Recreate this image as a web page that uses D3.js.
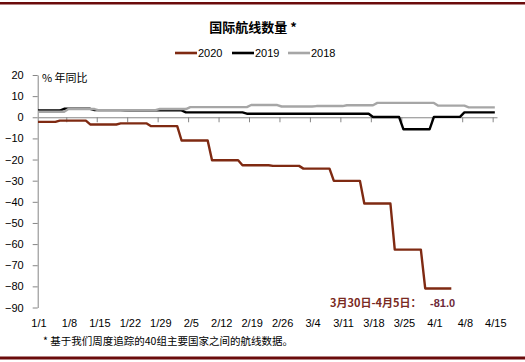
<!DOCTYPE html>
<html>
<head>
<meta charset="utf-8">
<script src="https://cdn.jsdelivr.net/npm/d3@7"></script>
<style>
  body { margin: 0; background: #fff; }
  svg { display: block; }
</style>
</head>
<body>
<script>
// weekly values (% yoy), each week starts on the given month/day of the 2020 axis
const weeks2020 = ["1/1", "1/6", "1/13", "1/20", "1/27", "2/3", "2/10", "2/17", "2/24", "3/2", "3/9", "3/16", "3/23", "3/30"];
const values2020 = [-2.2, -1.6, -3.4, -2.9, -4.2, -11.0, -20.3, -22.7, -23.0, -24.3, -30.1, -40.8, -62.6, -81.0];

const weeks2019 = ["1/1", "1/7", "1/14", "1/21", "1/28", "2/4", "2/11", "2/18", "2/25", "3/4", "3/11", "3/18", "3/25", "4/1", "4/8"];
const values2019 = [3.2, 4.0, 3.4, 3.3, 3.3, 2.3, 2.3, 1.7, 1.7, 1.7, 1.7, 0.1, -5.7, 0.2, 2.3];

const weeks2018 = ["1/1", "1/8", "1/15", "1/22", "1/29", "2/5", "2/12", "2/19", "2/26", "3/5", "3/12", "3/19", "3/26", "4/2", "4/9"];
const values2018 = [2.6, 3.9, 3.3, 3.4, 3.9, 4.8, 4.8, 5.8, 5.1, 5.3, 5.7, 6.8, 6.8, 5.5, 4.7];

const seriesNames = ["2020", "2019", "2018"];
const seriesColors = ["#7f2a12", "#000000", "#a6a6a6"];
const seriesEnd = ["4/5", "4/15", "4/15"];

const xLabels = ["1/1", "1/8", "1/15", "1/22", "1/29", "2/5", "2/12", "2/19", "2/26", "3/4", "3/11", "3/18", "3/25", "4/1", "4/8", "4/15"];
const yTicks = [20, 10, 0, -10, -20, -30, -40, -50, -60, -70, -80, -90];

const W = 525, H = 362;
const numFont = "'Liberation Sans', Arial, sans-serif";
const cjkFont = "'Noto Sans CJK SC', sans-serif";
const axisColor = "#868686";
const maroon = "#6b0b0b";

function md(s) {
  let p = s.split("/");
  return new Date(2020, +p[0] - 1, +p[1]);
}

// weekly plateaus: hold the value from week start to the day before the next week
function steps(starts, values, end) {
  let pts = [];
  starts.forEach((s, i) => {
    let a = md(s),
      b = i < starts.length - 1 ? d3.timeDay.offset(md(starts[i + 1]), -1) : md(end);
    pts.push([a, values[i]], [b, values[i]]);
  });
  return pts;
}

const svg = d3.select("body").append("svg")
  .attr("width", W).attr("height", H)
  .style("background", "#fff");

// frame lines
svg.append("rect").attr("x", 0).attr("y", 2).attr("width", W).attr("height", 2.5).attr("fill", maroon);
svg.append("rect").attr("x", 0).attr("y", 356.5).attr("width", W).attr("height", 3).attr("fill", maroon);

const x = d3.scaleTime()
  .domain([md("1/1"), new Date(2020, 3, 15, 12)])
  .range([38, 497]);
const y = d3.scaleLinear().domain([-90, 20]).range([307.5, 75]);

// title
svg.append("text")
  .attr("x", 253).attr("y", 32)
  .attr("text-anchor", "middle")
  .style("font-family", cjkFont).style("font-size", "13px").style("font-weight", "bold")
  .attr("fill", "#000")
  .text("国际航线数量 *");

// legend
const legendX = [175, 232, 288];
seriesNames.forEach((n, i) => {
  let g = svg.append("g").attr("transform", "translate(" + legendX[i] + ",53)");
  g.append("line").attr("x1", 0).attr("x2", 22).attr("y1", 0).attr("y2", 0)
    .attr("stroke", seriesColors[i]).attr("stroke-width", 2.6);
  g.append("text").attr("x", 23).attr("y", 4)
    .style("font-family", numFont).style("font-size", "11px")
    .attr("fill", "#000").text(n);
});

// y axis
const yAxis = svg.append("g")
  .attr("transform", "translate(37.7,0)")
  .call(d3.axisLeft(y).tickValues(yTicks).tickSize(5).tickSizeOuter(0).tickPadding(9));
yAxis.select(".domain").attr("stroke", axisColor);
yAxis.selectAll(".tick line").attr("stroke", axisColor);
yAxis.selectAll(".tick text")
  .style("font-family", numFont).style("font-size", "11px").attr("fill", "#000");

svg.append("text")
  .attr("x", 42).attr("y", 82)
  .style("font-family", cjkFont).style("font-size", "11px")
  .attr("fill", "#000")
  .text("% 年同比");

// x axis on the zero line, ticks between weekly labels
const xAxis = svg.append("g")
  .attr("transform", "translate(0," + y(0) + ")")
  .call(d3.axisBottom(x)
    .tickValues(xLabels.slice(1).map(s => d3.timeHour.offset(md(s), -12)))
    .tickSize(5).tickSizeOuter(0).tickFormat(""));
xAxis.select(".domain").attr("stroke", axisColor);
xAxis.selectAll(".tick line").attr("stroke", axisColor);

svg.append("g").selectAll("text")
  .data(xLabels)
  .join("text")
  .attr("x", d => x(md(d)) + 1)
  .attr("y", 327)
  .attr("text-anchor", "middle")
  .style("font-family", numFont).style("font-size", "11px")
  .attr("fill", "#000")
  .text(d => d);

// lines
const line = d3.line().x(d => x(d[0])).y(d => y(d[1]));
const data = [
  steps(weeks2020, values2020, seriesEnd[0]),
  steps(weeks2019, values2019, seriesEnd[1]),
  steps(weeks2018, values2018, seriesEnd[2])
];
svg.append("g").selectAll("path")
  .data(data)
  .join("path")
  .attr("d", line)
  .attr("fill", "none")
  .attr("stroke", (d, i) => seriesColors[i])
  .attr("stroke-width", 2.4)
  .attr("stroke-linejoin", "round");

// annotation of the last week
const last = values2020[values2020.length - 1];
svg.append("text")
  .attr("x", 330).attr("y", 307)
  .style("font-family", cjkFont).style("font-size", "11px").style("font-weight", "bold")
  .attr("fill", "#7a2a22")
  .text("3月30日-4月5日：");
svg.append("text")
  .attr("x", 430).attr("y", 307)
  .style("font-family", numFont).style("font-size", "11px").style("font-weight", "bold")
  .attr("fill", "#6e2a3a")
  .text(d3.format(".1f")(last).replace("−", "-"));

// footnote
svg.append("text")
  .attr("x", 43).attr("y", 345)
  .style("font-family", cjkFont).style("font-size", "10.5px")
  .attr("fill", "#000")
  .text("* 基于我们周度追踪的40组主要国家之间的航线数据。");
</script>
</body>
</html>
